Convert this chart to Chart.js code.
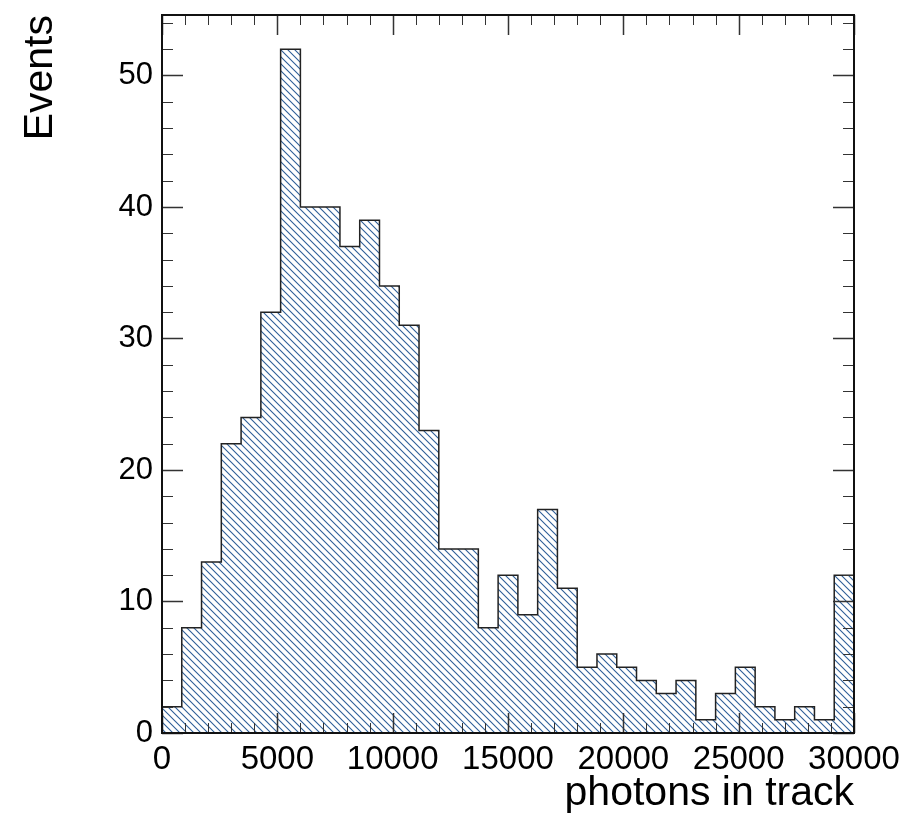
<!DOCTYPE html>
<html>
<head>
<meta charset="utf-8">
<title>photons in track</title>
<script src="https://cdn.jsdelivr.net/npm/chart.js@4.4.1/dist/chart.umd.min.js"></script>
<style>
  html, body { margin: 0; padding: 0; background: #fff; }
  #wrap { width: 900px; height: 818px; }
</style>
</head>
<body>
<div id="wrap"><canvas id="hist"></canvas></div>
<script>
// histogram, 35 equal bins between xMin and xMax
const xMin = 0;
const xMax = 30000;
const binCounts = [2, 8, 13, 22, 24, 32, 52, 40, 40, 37,
  39, 34, 31, 23, 14, 14, 8, 12, 9, 17,
  11, 5, 6, 5, 4, 3, 4, 1, 3, 5,
  2, 1, 2, 1, 12];
const xTickValues = [0, 5000, 10000, 15000, 20000, 25000, 30000];
const yTickValues = [0, 10, 20, 30, 40, 50];
const yMax = 54.6;
const xTitle = 'photons in track';
const yTitle = 'Events';

const xMinor = 1000, xMajor = 5000;
const yMinor = 2, yMajor = 10;

Chart.defaults.font.family = "'Liberation Sans', Arial, Helvetica, sans-serif";

// step outline points: left edge of each bin, then close at xMax
const binWidth = (xMax - xMin) / binCounts.length;
const points = [{x: xMin, y: 0}];
binCounts.forEach((c, i) => points.push({x: xMin + i * binWidth, y: c}));
points.push({x: xMax, y: binCounts[binCounts.length - 1]});
points.push({x: xMax, y: 0});

const canvas = document.getElementById('hist');

// ROOT style 3004 hatch
function hatch() {
  const s = 7;
  const c = document.createElement('canvas');
  c.width = s; c.height = s;
  const g = c.getContext('2d');
  g.strokeStyle = '#2f5f99';
  g.lineWidth = 1.1;
  g.beginPath();
  g.moveTo(-1, -1); g.lineTo(s + 1, s + 1);
  g.moveTo(s - 1, -1); g.lineTo(s + 1, 1);
  g.moveTo(-1, s - 1); g.lineTo(1, s + 1);
  g.stroke();
  return canvas.getContext('2d').createPattern(c, 'repeat');
}

// inside ticks on all four sides + frame
const rootFrame = {
  id: 'rootFrame',
  afterDatasetsDraw(chart) {
    const {ctx, chartArea: a, scales: {x, y}} = chart;
    ctx.save();
    ctx.strokeStyle = '#333';
    for (let v = xMin; v <= xMax; v += xMinor) {
      const px = Math.round(x.getPixelForValue(v)) + 0.5;
      const major = v % xMajor === 0;
      const len = major ? 20 : 10;
      ctx.lineWidth = major ? 1.5 : 1;
      ctx.beginPath();
      ctx.moveTo(px, a.bottom); ctx.lineTo(px, a.bottom - len);
      ctx.moveTo(px, a.top); ctx.lineTo(px, a.top + len);
      ctx.stroke();
    }
    for (let v = 0; v <= yMax; v += yMinor) {
      const py = Math.round(y.getPixelForValue(v)) + 0.5;
      const major = v % yMajor === 0;
      const len = major ? 21 : 11;
      ctx.lineWidth = major ? 1.5 : 1;
      ctx.beginPath();
      ctx.moveTo(a.left, py); ctx.lineTo(a.left + len, py);
      ctx.moveTo(a.right, py); ctx.lineTo(a.right - len, py);
      ctx.stroke();
    }
    ctx.lineWidth = 2;
    ctx.strokeStyle = '#111';
    ctx.strokeRect(a.left, a.top, a.right - a.left, a.bottom - a.top);
    ctx.restore();
  }
};

new Chart(canvas, {
  type: 'line',
  data: {
    datasets: [{
      data: points,
      stepped: true,
      fill: 'origin',
      backgroundColor: hatch(),
      borderColor: '#222',
      borderWidth: 1.5,
      pointRadius: 0,
      tension: 0
    }]
  },
  options: {
    responsive: true,
    maintainAspectRatio: false,
    animation: false,
    layout: { padding: { top: 15, right: 46, left: 0, bottom: 0 } },
    plugins: {
      legend: { display: false },
      tooltip: { enabled: false }
    },
    scales: {
      x: {
        type: 'linear',
        min: xMin,
        max: xMax,
        grid: { display: false, drawTicks: false },
        border: { display: false },
        afterBuildTicks: s => { s.ticks = xTickValues.map(v => ({value: v})); },
        afterFit: s => { s.height = 85; s.paddingLeft = 0; s.paddingRight = 0; },
        ticks: {
          autoSkip: false,
          maxRotation: 0,
          padding: 7,
          color: '#000',
          font: { size: 33 },
          callback: v => String(v)
        },
        title: {
          display: true,
          text: xTitle,
          align: 'end',
          color: '#000',
          font: { size: 41 },
          padding: { top: 0, bottom: 0 }
        }
      },
      y: {
        type: 'linear',
        min: 0,
        max: yMax,
        grid: { display: false, drawTicks: false },
        border: { display: false },
        afterBuildTicks: s => { s.ticks = yTickValues.map(v => ({value: v})); },
        afterFit: s => { s.width = 162; s.paddingTop = 0; s.paddingBottom = 0; },
        ticks: {
          padding: 9,
          color: '#000',
          font: { size: 31 },
          callback: v => String(v)
        },
        title: {
          display: true,
          text: yTitle,
          align: 'end',
          color: '#000',
          font: { size: 41 },
          padding: { top: 16, bottom: 0 }
        }
      }
    }
  },
  plugins: [rootFrame]
});
</script>
</body>
</html>
